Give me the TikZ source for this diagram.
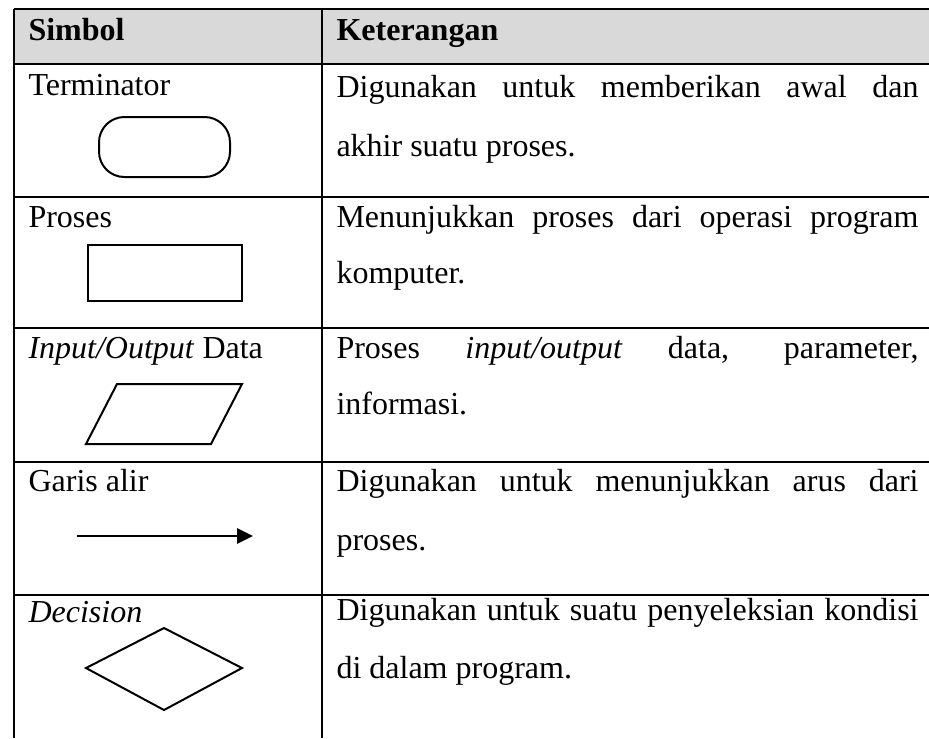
\documentclass[tikz,border=0pt]{standalone}
\usepackage{fontspec}
\setmainfont{Liberation Serif}
\usetikzlibrary{arrows.meta}
\definecolor{headgray}{HTML}{D9D9D9}
\newcommand{\fullline}[1]{\makebox[218.25pt][s]{#1}}
\tikzset{
  grid line/.style={line width=1pt},
  sym line/.style={line width=0.75pt},
  txt/.style={anchor=base west, inner sep=0pt, font=\fontsize{12}{14}\selectfont},
}
\begin{document}
\begin{tikzpicture}[x=0.375pt,y=-0.375pt]
\useasboundingbox (0,0) rectangle (929,738);
% header
\fill[headgray] (14,9) rectangle (929,64);
% table rules
\foreach \y in {9,64,197,328,462,595}
  \draw[grid line] (14,\y) -- (929,\y);
\draw[grid line] (14,9) -- (14,738);
\draw[grid line] (322,9) -- (322,738);
% left column
\node[txt] (simbol) at (28,40) {\textbf{Simbol}};
\node[txt] (term) at (28,95) {Terminator};
\node[txt] (proses) at (28,227) {Proses};
\node[txt] (io) at (28,358) {\textit{Input/Output} Data};
\node[txt] (garis) at (28,491) {Garis alir};
\node[txt] (dec) at (28,622) {\textit{Decision}};
% symbols
\draw[sym line, rounded corners=9.5pt] (99,117) rectangle (230,177);
\draw[sym line] (88,245) rectangle (242,301);
\draw[sym line] (117,384) -- (242,384) -- (211,444) -- (86,444) -- cycle;
\coordinate (arrS) at (77,536);
\coordinate (arrE) at (253,536);
\draw[line width=1.1pt, -{Triangle[length=6pt,width=5.6pt]}] (arrS) -- (arrE);
\draw[sym line] (86,668) -- (164,628) -- (242,668) -- (164,710) -- cycle;
% right column
\node[txt] (ket) at (336,40) {\textbf{Keterangan}};
\node[txt] (k1a) at (336,97) {\fullline{Digunakan untuk memberikan awal dan}};
\node[txt] (k1b) at (336,156) {akhir suatu proses.};
\node[txt] (k2a) at (336,227) {\fullline{Menunjukkan proses dari operasi program}};
\node[txt] (k2b) at (336,283) {komputer.};
\node[txt] (k3a) at (336,358) {\fullline{Proses \textit{input/output} data, parameter,}};
\node[txt] (k3b) at (336,414) {informasi.};
\node[txt] (k4a) at (336,491) {\fullline{Digunakan untuk menunjukkan arus dari}};
\node[txt] (k4b) at (336,550) {proses.};
\node[txt] (k5a) at (336,620) {\fullline{Digunakan untuk suatu penyeleksian kondisi}};
\node[txt] (k5b) at (336,678) {di dalam program.};
\end{tikzpicture}
\end{document}
